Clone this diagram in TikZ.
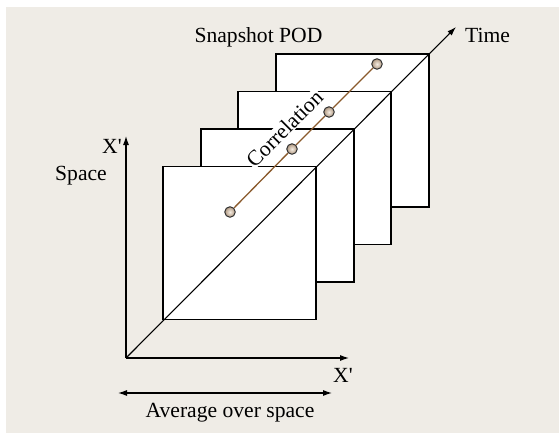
\documentclass[tikz,border=0pt]{standalone}
\usepackage{fontspec}
\setmainfont{Liberation Serif}
\usetikzlibrary{arrows.meta}
\definecolor{bgc}{HTML}{EFECE6}
\definecolor{corr}{HTML}{8A5A2C}
\definecolor{dotin}{HTML}{F4ECE2}
\definecolor{dotout}{HTML}{B09880}
\tikzset{
  sq/.style={draw=black, fill=white, line width=1.2pt, minimum size=153pt, inner sep=0pt, outer sep=0pt},
  lbl/.style={font=\fontsize{21.6}{25}\selectfont, inner sep=0pt, anchor=base},
  axis/.style={line width=1.1pt, -{Latex[length=9pt,width=6pt]}},
  dot/.style={circle, draw=black!80, line width=1pt, minimum size=10.5pt, inner sep=0pt, inner color=dotin, outer color=dotout},
}
\begin{document}
\begin{tikzpicture}[x=1pt,y=-1pt]
\useasboundingbox (0,0) rectangle (559,433);
\fill[bgc] (6,7) rectangle (559,433);
% snapshots
\node[sq] (s3) at (352.5,130.5) {};
\node[sq] (s2) at (314.5,168) {};
\node[sq] (s1) at (277.5,205.5) {};
\node[sq] (s0) at (239.5,243) {};
% correlation label
\node[font=\fontsize{21.6}{25}\selectfont, fill=white, inner sep=0.5pt, rotate=45] (corrlbl) at (284.5,128.5) {Correlation};
% axes
\coordinate (o) at (126,358);
\coordinate (ytip) at (126,136);
\coordinate (xtip) at (349,358);
\coordinate (ttip) at (456,27);
\draw[axis] (o) -- (ytip);
\draw[axis] (o) -- (xtip);
\draw[axis] (o) -- (ttip);
% correlation line
\node[dot] (d0) at (230,212) {};
\node[dot] (d1) at (292,149) {};
\node[dot] (d2) at (329,112) {};
\node[dot] (d3) at (377,64) {};
\draw[corr, line width=1.3pt] (d0) -- (d1) -- (d2) -- (d3);
% labels
\node[lbl] (snap) at (258.5,43) {Snapshot POD};
\node[lbl, anchor=base west] (time) at (465,43) {Time};
\node[lbl, anchor=base west] (xtop) at (102,153) {X\textquotesingle};
\node[lbl, anchor=base west] (space) at (55,180) {Space};
\node[lbl, anchor=base west] (xbot) at (333,382) {X\textquotesingle};
\coordinate (al) at (118,393);
\coordinate (ar) at (332,393);
\draw[line width=1.1pt, {Latex[length=9pt,width=6pt]}-{Latex[length=9pt,width=6pt]}] (al) -- (ar);
\node[lbl] (avg) at (230,417) {Average over space};
\end{tikzpicture}
\end{document}
